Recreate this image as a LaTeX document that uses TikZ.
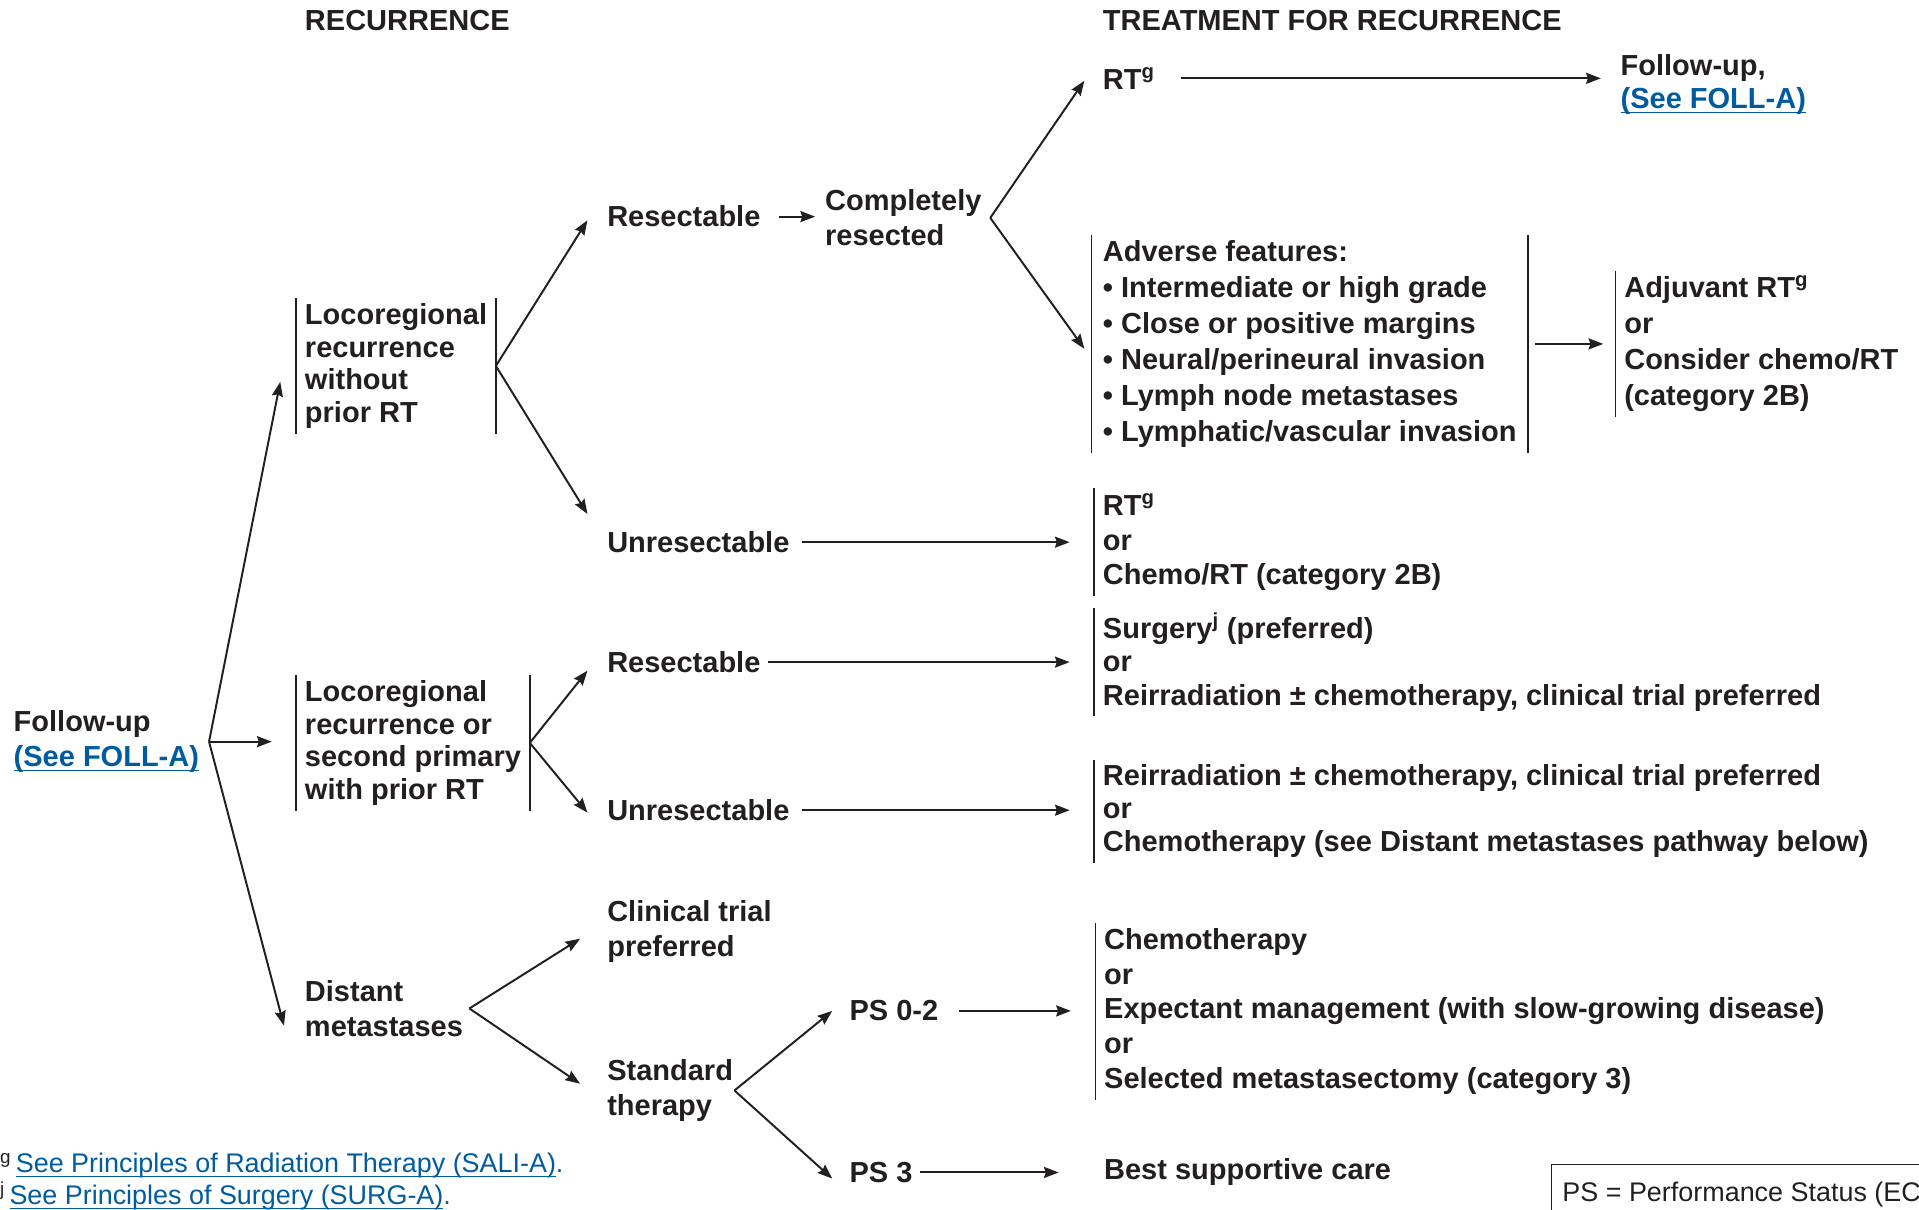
\documentclass[tikz,border=0pt]{standalone}
\usepackage{fontspec}
\setmainfont{Liberation Sans}
\usetikzlibrary{arrows.meta}

\definecolor{ink}{RGB}{35,31,32}
\definecolor{linkblue}{RGB}{0,92,158}

% underlined link text, rule drawn in the current colour
\newcommand{\linkline}[1]{\setbox0\hbox{#1}\rlap{\rule[-4pt]{\wd0}{1.3pt}}\box0}
\newcommand{\seefoll}{\textcolor{linkblue}{\linkline{(See FOLL-A)}}}

\begin{document}
\begin{tikzpicture}[
  x=1pt, y=1pt,
  lbl/.style={font=\fontsize{23.7}{28.5}\selectfont\bfseries, text=ink, inner sep=0pt, align=left, anchor=west},
  tight/.style={font=\fontsize{23.7}{26.7}\selectfont\bfseries},
  mid/.style={font=\fontsize{23.7}{27}\selectfont\bfseries},
  loose/.style={font=\fontsize{23.7}{29.4}\selectfont\bfseries},
  opt/.style={lbl, inner xsep=7pt, inner ysep=4pt},
  note/.style={font=\fontsize{22}{26}\selectfont, text=ink, inner sep=0pt, anchor=base west},
  arr/.style={draw=ink, line width=1.6pt, -{Stealth[length=12pt,width=9pt,inset=1.5pt]}},
  bar/.style={draw=ink, line width=1.3pt}
]
  \useasboundingbox (0,0) rectangle (1568,-988);

  % --- column titles ---
  \node[lbl] (hrec) at (249,-17) {RECURRENCE};
  \node[lbl] (htrt) at (901,-17) {TREATMENT FOR RECURRENCE};

  % --- recurrence types ---
  \node[lbl] (fu) at (11,-606) {Follow-up\\\seefoll};
  \node[opt, tight] (loc1) at (242,-299) {Locoregional\\recurrence\\without\\prior RT};
  \node[opt, tight] (loc2) at (242,-607) {Locoregional\\recurrence or\\second primary\\with prior RT};
  \node[lbl] (dist) at (249,-824) {Distant\\metastases};

  % --- resectability / therapy choice ---
  \node[lbl] (res1) at (496,-177) {Resectable};
  \node[lbl] (comp) at (674,-178) {Completely\\resected};
  \node[lbl] (unres1) at (496,-443) {Unresectable};
  \node[lbl] (res2) at (496,-541) {Resectable};
  \node[lbl] (unres2) at (496,-662) {Unresectable};
  \node[lbl] (trial) at (496,-761) {Clinical trial\\preferred};
  \node[lbl] (std) at (496,-891) {Standard\\therapy};
  \node[lbl] (ps02) at (694,-826) {PS 0-2};
  \node[lbl] (ps3) at (694,-958) {PS 3};

  % --- treatment for recurrence ---
  \node[lbl] (rt1) at (901,-64) {RT\textsuperscript{g}};
  \node[lbl, tight] (fu2) at (1324,-69) {Follow-up,\\\seefoll};
  \node[opt, loose, inner xsep=9pt] (adv) at (892,-281) {Adverse features:\\%
    • Intermediate or high grade\\%
    • Close or positive margins\\%
    • Neural/perineural invasion\\%
    • Lymph node metastases\\%
    • Lymphatic/vascular invasion};
  \node[opt, loose] (adj) at (1320,-281) {Adjuvant RT\textsuperscript{g}\\or\\Consider chemo/RT\\(category 2B)};
  \node[opt] (opt1) at (894,-443) {RT\textsuperscript{g}\\or\\Chemo/RT (category 2B)};
  \node[opt, mid] (opt2) at (894,-541) {Surgery\textsuperscript{j} (preferred)\\or\\Reirradiation ± chemotherapy, clinical trial preferred};
  \node[opt, mid] (opt3) at (894,-663) {Reirradiation ± chemotherapy, clinical trial preferred\\or\\Chemotherapy (see Distant metastases pathway below)};
  \node[opt] (opt4) at (895,-826.5) {Chemotherapy\\or\\Expectant management (with slow-growing disease)\\or\\Selected metastasectomy (category 3)};
  \node[lbl] (bsc) at (902,-958) {Best supportive care};

  % brackets beside the option lists
  \foreach \n in {loc1,loc2,adv,adj,opt1,opt2,opt3,opt4}
    \draw[bar] (\n.north west) -- (\n.south west);
  \foreach \n in {loc1,loc2,adv}
    \draw[bar] (\n.north east) -- (\n.south east);

  % split points
  \coordinate (fuS) at ([xshift=8pt]fu.east);
  \coordinate (compS) at ([xshift=7pt]comp.east);
  \coordinate (distS) at ([xshift=5pt]dist.east);
  \coordinate (stdS) at ([xshift=1pt]std.east);

  % --- arrows ---
  \draw[arr] (fuS) -- ([xshift=-13pt,yshift=-13pt]loc1.west);
  \draw[arr] (fuS) -- ([xshift=-20pt]loc2.west |- fuS);
  \draw[arr] (fuS) -- ([xshift=-17pt,yshift=-14pt]dist.west);

  \draw[arr] (loc1.east) -- ([xshift=-16pt,yshift=-3pt]res1.west);
  \draw[arr] (loc1.east) -- ([xshift=-16pt,yshift=23pt]unres1.west);
  \draw[arr] ([xshift=15pt]res1.east) -- ([xshift=-8pt]comp.west |- res1.east);
  \draw[arr] (compS) -- ([xshift=-15pt,yshift=-2pt]rt1.west);
  \draw[arr] (compS) -- ([xshift=-6pt,yshift=-4pt]adv.west);
  \draw[arr] ([xshift=21pt]rt1.east) -- ([xshift=-16pt]fu2.west |- rt1.east);
  \draw[arr] ([xshift=6pt]adv.east) -- ([xshift=-10pt]adj.west |- adv.east);
  \draw[arr] ([xshift=10pt]unres1.east) -- ([xshift=-20pt]opt1.west |- unres1.east);

  \draw[arr] (loc2.east) -- ([xshift=-16pt,yshift=-7pt]res2.west);
  \draw[arr] (loc2.east) -- ([xshift=-16pt,yshift=-2pt]unres2.west);
  \draw[arr] ([xshift=6pt]res2.east) -- ([xshift=-20pt]opt2.west |- res2.east);
  \draw[arr] ([xshift=10pt]unres2.east) -- ([xshift=-20pt]opt3.west |- unres2.east);

  \draw[arr] (distS) -- ([xshift=-22pt,yshift=-6pt]trial.west);
  \draw[arr] (distS) -- ([xshift=-22pt,yshift=5.5pt]std.west);
  \draw[arr] (stdS) -- ([xshift=-14pt]ps02.west);
  \draw[arr] (stdS) -- ([xshift=-14pt,yshift=-5pt]ps3.west);
  \draw[arr] ([xshift=17pt]ps02.east) -- ([xshift=-20pt]opt4.west |- ps02.east);
  \draw[arr] ([xshift=6pt]ps3.east) -- ([xshift=-37pt]bsc.west);

  % --- footnotes and key ---
  \node[note] (fng) at (0,-958) {\textsuperscript{g}\,\textcolor{linkblue}{\linkline{See Principles of Radiation Therapy (SALI-A)}.}};
  \node[note] (fnj) at (0,-984) {\textsuperscript{j}\,\textcolor{linkblue}{\linkline{See Principles of Surgery (SURG-A)}.}};
  \node[note, draw=ink, line width=1.3pt, anchor=north west, inner xsep=9pt, inner ysep=14pt] (key) at (1267,-951) {PS = Performance Status (ECOG)};
\end{tikzpicture}
\end{document}
